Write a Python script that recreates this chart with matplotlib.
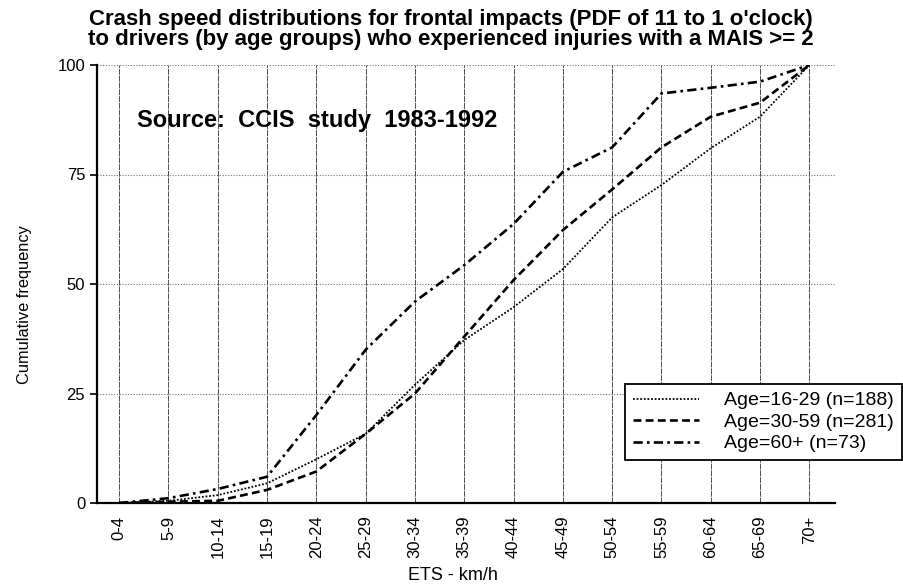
import matplotlib
matplotlib.use("Agg")
import matplotlib.pyplot as plt
import numpy as np

plt.rcParams['font.family'] = ['Liberation Sans', 'DejaVu Sans']

# speed bands (ETS, km/h)
speed_bands = ['0-4', '5-9', '10-14', '15-19', '20-24', '25-29', '30-34', '35-39',
               '40-44', '45-49', '50-54', '55-59', '60-64', '65-69', '70+']

# cumulative frequency (%)
age_16_29 = [0, 0.5, 1.8, 4.5, 10.0, 15.8, 27.0, 37.2, 44.7, 53.4, 65.2, 72.6, 81.0, 88.2, 100]
age_30_59 = [0, 0.3, 0.5, 3.0, 7.2, 15.8, 25.0, 38.0, 50.9, 62.3, 71.6, 81.2, 88.2, 91.4, 100]
age_60_up = [0, 1.1, 3.2, 6.0, 20.1, 35.0, 46.0, 54.3, 63.7, 75.6, 81.2, 93.5, 94.8, 96.2, 100]

labels = ['Age=16-29 (n=188)', 'Age=30-59 (n=281)', 'Age=60+ (n=73)']

W, H = 904, 586
fig = plt.figure(figsize=(W / 100, H / 100), dpi=100)
ax = fig.add_axes([97/W, 1 - 503/H, (835 - 97)/W, (503 - 65)/H])

x = np.arange(len(speed_bands))

# grid: near-solid verticals, dotted horizontals
for xi in x:
    ax.axvline(xi, color='0.3', lw=0.7, ls=(0, (6, 1)), zorder=1)
for yv in [25, 50, 75, 100]:
    ax.axhline(yv, color='0.45', lw=0.8, ls=(0, (1, 1.5)), zorder=1)

ax.plot(x, age_16_29, color='black', lw=1.3, ls=(0, (1, 1)), label=labels[0], zorder=3)
ax.plot(x, age_30_59, color='black', lw=1.9, ls=(0, (3, 1.6)), label=labels[1], zorder=3)
ax.plot(x, age_60_up, color='black', lw=1.9, ls=(0, (3.5, 1.6, 1, 1.6)), label=labels[2], zorder=3)

ax.set_xlim(-0.45, 14.52)
ax.set_ylim(0, 100)
ax.set_xticks(x)
ax.set_xticklabels(speed_bands, rotation=90, fontsize=12)
ax.set_yticks([0, 25, 50, 75, 100])
ax.tick_params(axis='y', labelsize=12, direction='out', length=5, width=1.2)
ax.tick_params(axis='x', length=0, pad=9)

for side in ['top', 'right']:
    ax.spines[side].set_visible(False)
for side in ['left', 'bottom']:
    ax.spines[side].set_linewidth(1.6)

ax.set_ylabel('Cumulative frequency', fontsize=11.8)
ax.yaxis.set_label_coords(-0.088, 0.452)
ax.set_xlabel('ETS - km/h', fontsize=13)
ax.xaxis.set_label_coords((453 - 97) / (835 - 97), -(576 - 503) / (503 - 65))
ax.xaxis.label.set_va('center')

fig.text(137/W, 1 - 121/H, 'Source:  CCIS  study  1983-1992',
         fontsize=17, fontweight='bold', va='center', ha='left')

fig.text(451/W, 1 - 19/H,
         "Crash speed distributions for frontal impacts (PDF of 11 to 1 o'clock)",
         ha='center', va='center', fontsize=16, fontweight='bold')
fig.text(451/W, 1 - 40/H,
         "to drivers (by age groups) who experienced injuries with a MAIS >= 2",
         ha='center', va='center', fontsize=16, fontweight='bold')

leg = ax.legend(loc='upper left', bbox_to_anchor=(625/W, 1 - 384/H),
                bbox_transform=fig.transFigure, borderaxespad=0, fontsize=14,
                frameon=True, fancybox=False, handlelength=3.4, handletextpad=1.3,
                labelspacing=0.2, borderpad=0.4)
leg.get_frame().set_edgecolor('black')
leg.get_frame().set_linewidth(1.3)
leg.get_frame().set_alpha(1)
leg.set_zorder(5)

fig.savefig('out.png', dpi=100)
